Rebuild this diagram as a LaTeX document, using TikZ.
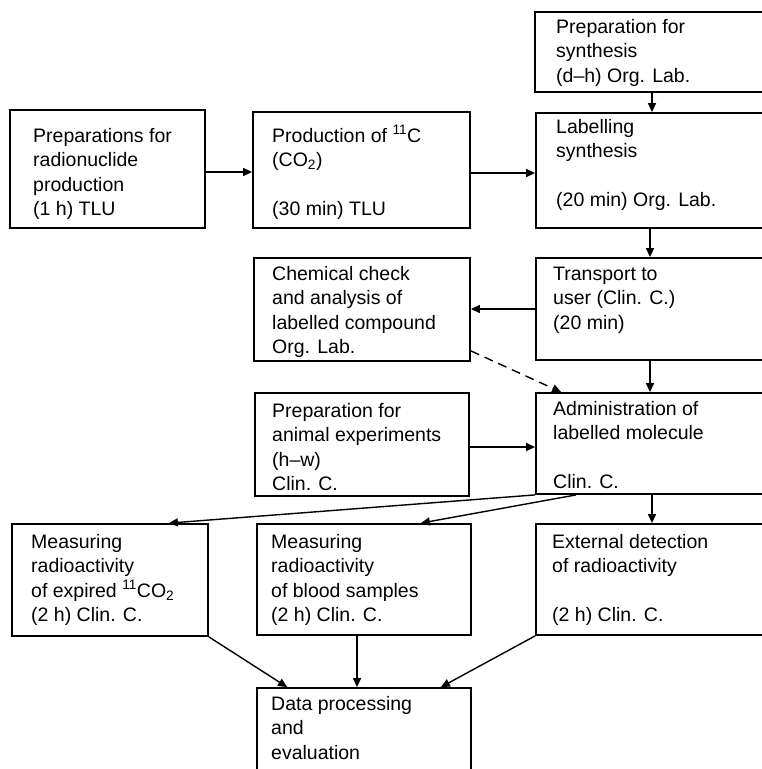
\documentclass[tikz,border=0pt]{standalone}
\usepackage{fontspec}
\setmainfont{Liberation Sans}
\usetikzlibrary{arrows.meta}
\newcommand\lns[1]{\begin{tabular}[t]{@{}l@{}}#1\end{tabular}}
\tikzset{
  box/.style={draw, line width=1.8pt, rectangle, inner sep=0pt},
  txt/.style={anchor=base west, inner sep=0pt, font=\fontsize{19.5}{24.5}\selectfont},
  arr/.style={line width=1.4pt, -{Triangle[length=9pt,width=8pt]}},
  dsh/.style={dash pattern=on 9pt off 6pt},
}
\begin{document}
\begin{tikzpicture}[x=1pt,y=-1pt]
\clip (0,0) rectangle (762,769);
\fill[white] (0,0) rectangle (762,769);
% boxes
\node[box, minimum width=195pt, minimum height=118pt] (A) at (107.5,169) {};
\node[box, minimum width=217pt, minimum height=116pt] (B) at (361.5,170) {};
\node[box, minimum width=240pt, minimum height=80pt] (P) at (655,52) {};
\node[box, minimum width=239pt, minimum height=115pt] (C) at (655.5,170.5) {};
\node[box, minimum width=239pt, minimum height=102pt] (T) at (655.5,309) {};
\node[box, minimum width=216pt, minimum height=103pt] (K) at (362,309.5) {};
\node[box, minimum width=239pt, minimum height=101pt] (D) at (655.5,443.5) {};
\node[box, minimum width=214pt, minimum height=103pt] (N) at (362,444.5) {};
\node[box, minimum width=196pt, minimum height=112pt] (M1) at (110,580) {};
\node[box, minimum width=214pt, minimum height=111pt] (M2) at (364,579.5) {};
\node[box, minimum width=239pt, minimum height=111pt] (E) at (655.5,579.5) {};
\node[box, minimum width=214pt, minimum height=102pt] (F) at (364,739) {};
% texts
\node[txt] (tA) at (33,142) {\lns{Preparations for\\radionuclide\\production\\(1 h) TLU}};
\node[txt] (tB) at (272,142) {\lns{Production of \textsuperscript{11}C\\(CO\textsubscript{2})\\ \\(30 min) TLU}};
\node[txt] (tP) at (556,33) {\lns{Preparation for\\synthesis\\(d--h) Org. Lab.}};
\node[txt] (tC) at (556,133) {\lns{Labelling\\synthesis\\ \\(20 min) Org. Lab.}};
\node[txt] (tT) at (553,280) {\lns{Transport to\\user (Clin. C.)\\(20 min)}};
\node[txt] (tK) at (272,280) {\lns{Chemical check\\and analysis of\\labelled compound\\Org. Lab.}};
\node[txt] (tD) at (553,415) {\lns{Administration of\\labelled molecule\\ \\Clin. C.}};
\node[txt] (tN) at (272,417) {\lns{Preparation for\\animal experiments\\(h--w)\\Clin. C.}};
\node[txt] (tM1) at (31,548) {\lns{Measuring\\radioactivity\\of expired \textsuperscript{11}CO\textsubscript{2}\\(2 h) Clin. C.}};
\node[txt] (tM2) at (271,548) {\lns{Measuring\\radioactivity\\of blood samples\\(2 h) Clin. C.}};
\node[txt] (tE) at (552,548) {\lns{External detection\\of radioactivity\\ \\(2 h) Clin. C.}};
\node[txt] (tF) at (271,710) {\lns{Data processing\\and\\evaluation}};
% connectors
\draw[arr] (A.east |- 0,172) -- (B.west |- 0,172);
\draw[arr] (B.east |- 0,173) -- (C.west |- 0,173);
\draw[arr] (P.south -| 652,0) -- (C.north -| 652,0);
\draw[arr] (C.south -| 650,0) -- (T.north -| 650,0);
\draw[arr] (T.west |- 0,309) -- (K.east |- 0,309);
\draw[arr] (T.south -| 650,0) -- (D.north -| 650,0);
\draw[arr, dsh] ([yshift=11pt]K.south east) -- ([xshift=26pt]D.north west);
\draw[arr] (N.east |- 0,447) -- (D.west |- 0,447);
\draw[arr] (D.south west) -- ([xshift=-40pt]M1.north east);
\draw[arr] ([xshift=41pt]D.south west) -- ([xshift=-51pt]M2.north east);
\draw[arr] (D.south -| 652,0) -- (E.north -| 652,0);
\draw[arr] (M1.south east) -- ([xshift=31pt]F.north west);
\draw[arr] (M2.south -| 357,0) -- (F.north -| 357,0);
\draw[arr] (E.south west) -- ([xshift=-31pt]F.north east);
\end{tikzpicture}
\end{document}
